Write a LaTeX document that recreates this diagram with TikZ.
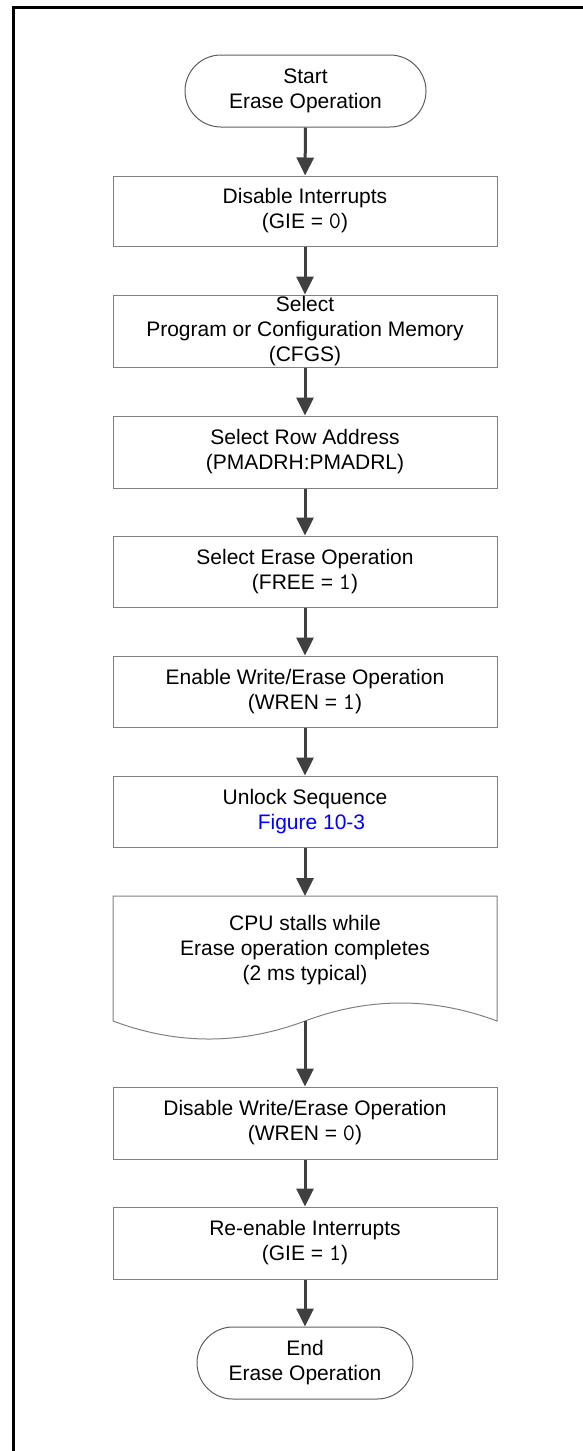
\documentclass[tikz,border=0pt]{standalone}
\usepackage{fontspec}
\setmainfont{Liberation Sans}
\setmonofont{Latin Modern Mono}[Scale=1.12]
\usetikzlibrary{arrows.meta,shapes.misc}
\definecolor{flowgray}{RGB}{64,64,64}
\definecolor{boxgray}{RGB}{128,128,128}
\definecolor{linkblue}{RGB}{0,0,255}
\newcommand{\bitval}[1]{{\ttfamily #1}}

\begin{document}
\begin{tikzpicture}[x=1pt, y=-1pt, >={Triangle[length=18pt,width=17pt]}, ->]
\tikzstyle{every node} = [font=\fontsize{21}{25}\selectfont, align=center, inner sep=0pt]
\tikzstyle{procbox} = [draw=boxgray, line width=1pt, minimum width=384pt, minimum height=72pt]
\tikzstyle{termbox} = [rounded rectangle, draw=flowgray!85, line width=1pt, minimum height=72pt]
\tikzstyle{flow} = [draw=flowgray, line width=3pt]
\useasboundingbox (0,0) rectangle (583,1451);
% page frame
\draw[-, line width=3pt] (13.5,1451) -- (13.5,7) -- (583,7);
\node[termbox, minimum width=241pt] (start) at (305.5,91) {Start\\Erase Operation};
\node[procbox, minimum height=70pt] (gieoff) at (305,211) {Disable Interrupts\\(GIE = \bitval{0})};
\node[procbox] (cfgs) at (305,331) {Select\\Program or Configuration Memory\\(CFGS)};
\node[procbox] (rowaddr) at (305,452) {Select Row Address\\(PMADRH:PMADRL)};
\node[procbox, minimum height=71pt] (freebit) at (305,571.5) {Select Erase Operation\\(FREE = \bitval{1})};
\node[procbox, minimum height=71pt] (wrenon) at (305,691.5) {Enable Write/Erase Operation\\(WREN = \bitval{1})};
\node[procbox, minimum height=71pt] (unlock) at (305,811.5) {Unlock Sequence\\\hspace*{13pt}\textcolor{linkblue}{Figure 10-3}};
% document shape for the stall step
\draw[-, draw=boxgray, line width=1pt] (113,1021) -- (113,896) -- (497,896) -- (497,1021)
  .. controls (433,997) and (369,997) .. (305,1021)
  .. controls (241,1045) and (177,1045) .. (113,1021) -- cycle;
\coordinate (stallin) at (305,896);
\coordinate (stallout) at (305,1021);
\node (stall) at (305,950) {CPU stalls while\\Erase operation completes\\(2 ms typical)};
\node[procbox] (wrenoff) at (305,1123) {Disable Write/Erase Operation\\(WREN = \bitval{0})};
\node[procbox] (gieon) at (305,1243) {Re-enable Interrupts\\(GIE = \bitval{1})};
\node[termbox, minimum width=216pt] (finish) at (305,1363) {End\\Erase Operation};
\draw[flow] (start) -- (gieoff);
\draw[flow] (gieoff) -- (cfgs);
\draw[flow] (cfgs) -- (rowaddr);
\draw[flow] (rowaddr) -- (freebit);
\draw[flow] (freebit) -- (wrenon);
\draw[flow] (wrenon) -- (unlock);
\draw[flow] (unlock) -- (stallin);
\draw[flow] (stallout) -- (wrenoff);
\draw[flow] (wrenoff) -- (gieon);
\draw[flow] (gieon) -- (finish);
\end{tikzpicture}
\end{document}
